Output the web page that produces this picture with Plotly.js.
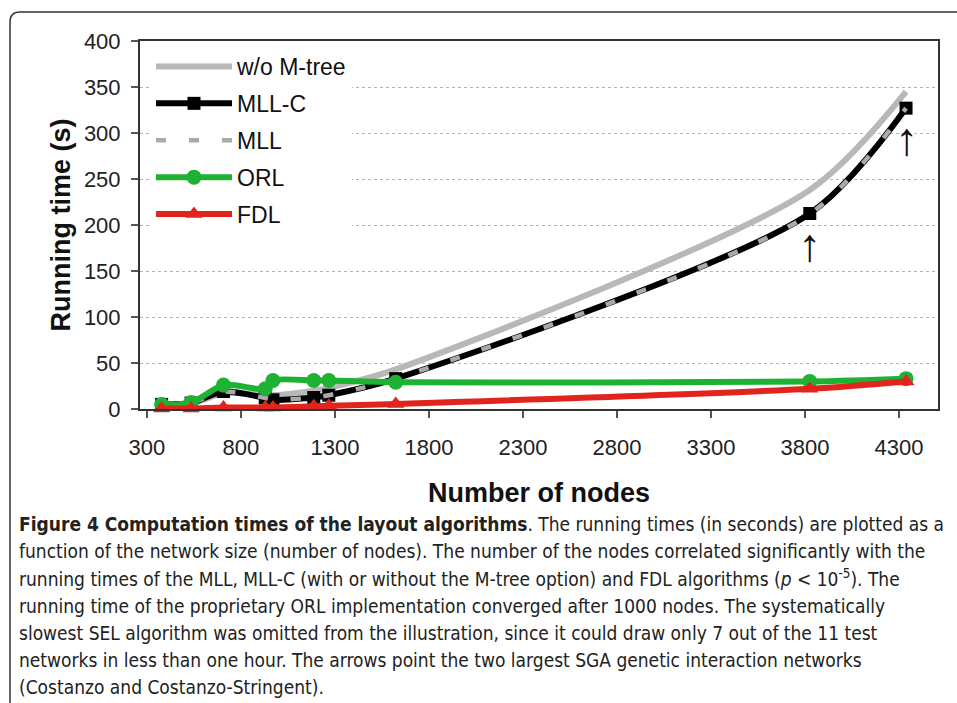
<!DOCTYPE html>
<html>
<head>
<meta charset="utf-8">
<script src="https://cdn.plot.ly/plotly-3.0.1.min.js"></script>
<style>
html,body{margin:0;padding:0;background:#fff;}
#chart{width:957px;height:703px;}
</style>
</head>
<body>
<div id="chart"></div>
<script>
// ---- data ----
const nodes      = [378, 535, 707, 929, 970, 1187, 1267, 1623, 3825, 4337];
const woMtree    = [4, 6, 17, 15, 15, 20, 23, 43, 238, 345];
const mllC       = [5, 6.5, 19, 12, 10, 12.5, 15, 33, 212.5, 327];
const mll        = [5, 6.5, 19, 12, 10, 12.5, 15, 33, 212, 327];
const orl        = [5, 7, 26, 22, 31, 31, 31, 29, 30, 33];
const fdl        = [0.5, 0.5, 1.5, 1.5, 1.5, 3, 3.5, 5.5, 22, 30];
const xTicks     = [300, 800, 1300, 1800, 2300, 2800, 3300, 3800, 4300];
const yTicks     = [0, 50, 100, 150, 200, 250, 300, 350, 400];
const arrowNodes = [3825, 4337];
const arrowTimes = [178, 293];
const captionLines = [
  "<b>Figure 4 Computation times of the layout algorithms</b>. The running times (in seconds) are plotted as a",
  "function of the network size (number of nodes). The number of the nodes correlated significantly with the",
  "running times of the MLL, MLL-C (with or without the M-tree option) and FDL algorithms (<i>p</i> &lt; 10<sup>-5</sup>). The",
  "running time of the proprietary ORL implementation converged after 1000 nodes. The systematically",
  "slowest SEL algorithm was omitted from the illustration, since it could draw only 7 out of the 11 test",
  "networks in less than one hour. The arrows point the two largest SGA genetic interaction networks",
  "(Costanzo and Costanzo-Stringent)."
];

// ---- layout geometry ----
const FW = 957, FH = 703;
const L = 140, R = 19, T = 41, B = 294;
const W = FW - L - R, H = FH - T - B;
const px2x = p => (p - L) / W;
const py2y = p => (FH - B - p) / H;

const sansFont = "Liberation Sans, Arial, Helvetica, sans-serif";
const capFont = "DejaVu Sans Condensed, Liberation Sans Narrow, Roboto Condensed, sans-serif";

const green = "rgb(30,178,50)";
const red = "rgb(226,36,30)";
const lgray = "rgb(184,184,184)";
const SM = 0.8;

function tr(name, y, opts) {
  return Object.assign({
    type: "scatter", x: nodes, y: y, name: name, legendgroup: name,
    cliponaxis: false
  }, opts);
}

const traces = [
  tr("w/o M-tree", woMtree, {mode: "lines", line: {color: lgray, width: 6, shape: "spline", smoothing: SM}}),
  tr("MLL-C", mllC, {mode: "lines+markers", line: {color: "#000", width: 6, shape: "spline", smoothing: SM},
      marker: {symbol: "square", size: 13, color: "#000"}}),
  tr("MLL", mll, {mode: "lines", line: {color: "rgb(170,170,170)", width: 4.5, dash: "10px,23px", shape: "spline", smoothing: SM}}),
  tr("ORL", orl, {mode: "lines+markers", line: {color: green, width: 6, shape: "spline", smoothing: SM},
      marker: {symbol: "circle", size: 15, color: green}}),
  tr("FDL", fdl, {mode: "lines+markers", line: {color: red, width: 6, shape: "spline", smoothing: SM},
      marker: {symbol: "triangle-up", size: 15, color: red}})
];

const annotations = captionLines.map((t, i) => ({
  xref: "paper", yref: "paper", x: px2x(17), y: py2y(524 + i * 27.2),
  xanchor: "left", yanchor: "middle", showarrow: false, align: "left",
  text: t, font: {family: capFont, size: 19, color: "#222"}
}));
arrowNodes.forEach((xn, i) => {
  annotations.push({
    x: xn, y: arrowTimes[i], xref: "x", yref: "y", showarrow: false,
    text: "↑", font: {family: sansFont, size: 46, color: "#111"},
    xanchor: "center", yanchor: "middle"
  });
});

const layout = {
  width: FW, height: FH,
  margin: {l: L, r: R, t: T, b: B, pad: 0},
  paper_bgcolor: "#fff", plot_bgcolor: "#fff",
  showlegend: true,
  legend: {
    x: px2x(151), y: py2y(45), xanchor: "left", yanchor: "top",
    bgcolor: "#fff", borderwidth: 0, itemwidth: 76, tracegroupgap: 4,
    font: {family: sansFont, size: 23, color: "#111"}
  },
  xaxis: {
    range: [263, 4507], tickvals: xTicks, ticktext: xTicks.map(String),
    ticks: "outside", ticklen: 7, tickwidth: 1.2, tickcolor: "#555",
    showline: true, linecolor: "#333", linewidth: 2, mirror: true,
    showgrid: false, zeroline: false, ticklabelstandoff: 11,
    tickfont: {family: sansFont, size: 22, color: "#222"},
    title: {text: "Number of nodes", standoff: 24,
            font: {family: sansFont, size: 27, color: "#111", weight: "bold"}}
  },
  yaxis: {
    range: [0, 400], tickvals: yTicks, ticktext: yTicks.map(String),
    ticks: "outside", ticklen: 7, tickwidth: 1.2, tickcolor: "#555",
    showline: true, linecolor: "#333", linewidth: 2, mirror: true,
    showgrid: true, gridcolor: "#b5b5b5", griddash: "dot", gridwidth: 1,
    zeroline: false, ticklabelstandoff: 6,
    tickfont: {family: sansFont, size: 22, color: "#222"},
    title: {text: "Running time (s)", standoff: 5,
            font: {family: sansFont, size: 27, color: "#111", weight: "bold"}}
  },
  annotations: annotations,
  shapes: [{
    type: "path", xref: "paper", yref: "paper",
    path: "M" + px2x(10) + "," + py2y(705) +
          " L" + px2x(10) + "," + py2y(22) +
          " Q" + px2x(10) + "," + py2y(12) + " " + px2x(20) + "," + py2y(12) +
          " L" + px2x(958) + "," + py2y(12),
    line: {color: "#333", width: 1.5}
  }]
};

Plotly.newPlot("chart", traces, layout, {displayModeBar: false, staticPlot: true});
</script>
</body>
</html>
